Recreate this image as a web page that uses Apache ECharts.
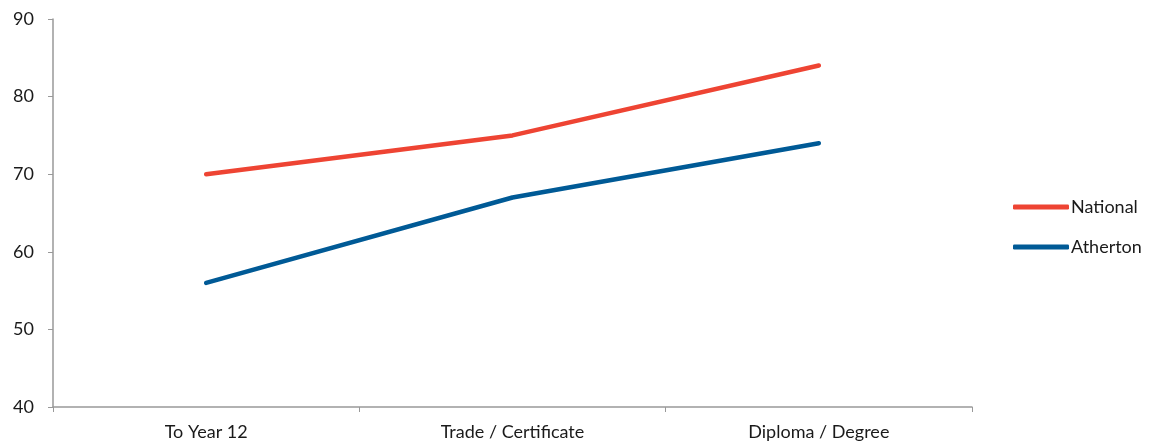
<!DOCTYPE html>
<html><head><meta charset="utf-8">
<script src="https://cdn.jsdelivr.net/npm/echarts@6/dist/echarts.min.js"></script>
<style>html,body{margin:0;padding:0;background:#fff}#c{width:1154px;height:448px}</style>
</head><body><div id="c"></div>
<script>
var categories = ["To Year 12", "Trade / Certificate", "Diploma / Degree"];
var national = [70, 75, 84];
var atherton = [56, 67, 74];
var yTicks = [40, 50, 60, 70, 80, 90];

var font = "Lato, 'Open Sans', sans-serif";
var chart = echarts.init(document.getElementById('c'));
chart.setOption({
  animation: false,
  textStyle: {fontFamily: font},
  grid: {left: 53, right: 182, top: 19, bottom: 41},
  legend: {
    orient: 'vertical', left: 1008, top: 193, itemGap: 22,
    itemWidth: 56, itemHeight: 5, icon: 'roundRect',
    textStyle: {fontSize: 18, color: '#1a1a1a', fontFamily: font, padding: [0,0,0,-3]},
    data: ['National', 'Atherton']
  },
  xAxis: {
    type: 'category', data: categories, boundaryGap: true,
    axisLine: {lineStyle: {color: '#999', width: 1.5}},
    axisTick: {show: true, length: 5, lineStyle: {color: '#999'}},
    axisLabel: {fontSize: 18, color: '#1a1a1a', margin: 16, fontFamily: font}
  },
  yAxis: {
    type: 'value', min: yTicks[0], max: yTicks[yTicks.length-1], interval: 10,
    axisLine: {show: true, lineStyle: {color: '#999', width: 1.5}},
    axisTick: {show: true, length: 5, lineStyle: {color: '#999'}},
    splitLine: {show: false},
    axisLabel: {fontSize: 18, color: '#1a1a1a', margin: 19, fontFamily: font}
  },
  series: [
    {name: 'National', type: 'line', data: national, symbol: 'none',
     lineStyle: {color: '#EE4433', width: 4.5, cap: 'round'}, itemStyle: {color: '#EE4433'}},
    {name: 'Atherton', type: 'line', data: atherton, symbol: 'none',
     lineStyle: {color: '#005A96', width: 4.5, cap: 'round'}, itemStyle: {color: '#005A96'}}
  ]
});
</script></body></html>
